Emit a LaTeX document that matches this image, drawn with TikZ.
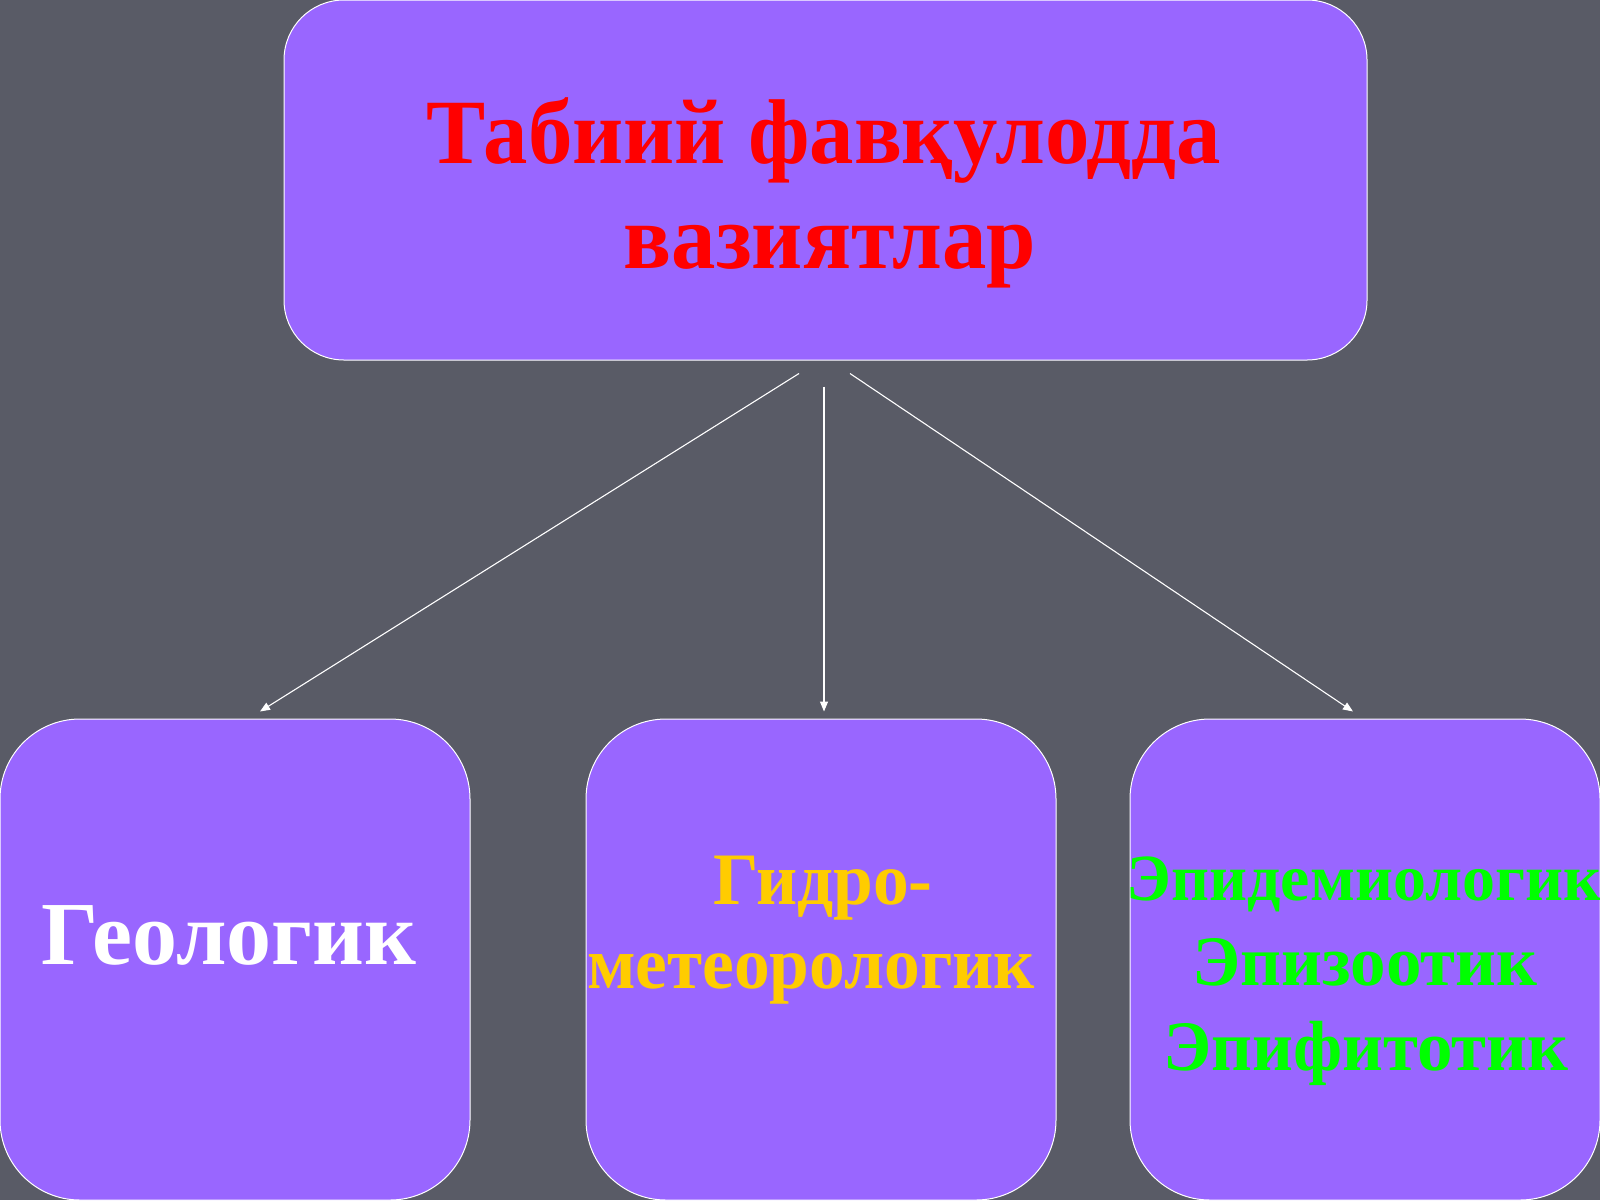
\documentclass[tikz,border=0pt]{standalone}
\usepackage{fontspec}
\setmainfont{Liberation Serif}
\usepackage{xcolor}
\usetikzlibrary{arrows.meta, calc}
\definecolor{slidebg}{RGB}{89,91,102}
\definecolor{boxfill}{RGB}{153,102,255}
\definecolor{hydroyellow}{RGB}{255,204,0}
\definecolor{epigreen}{RGB}{0,255,0}
\tikzset{
  box/.style={draw=white, fill=boxfill, line width=1pt, inner sep=0pt},
  smallbox/.style={box, rounded corners=80pt, minimum width=470pt, minimum height=481pt},
  txt/.style={anchor=base, inner sep=0pt, font=\bfseries},
  link/.style={draw=white, line width=1.1pt, -{Triangle[length=10pt,width=8pt]}}
}
\begin{document}
\begin{tikzpicture}[x=1pt,y=-1pt]
        \fill[slidebg] (0,0) rectangle (1600,1200);
        \useasboundingbox (0,0) rectangle (1600,1200);
        \node[box, rounded corners=60pt, minimum width=1083pt, minimum height=360pt] (top) at (825.5,180) {};
        \node[smallbox] (geo) at (235,959.5) {};
        \node[smallbox] (hydro) at (821,959.5) {};
        \node[smallbox] (epi) at (1365,959.5) {};
        % texts
        \node[txt, red, xscale=0.965, font=\bfseries\fontsize{92}{105}\selectfont] (title1) at (824,163) {Табиий фавқулодда};
        \node[txt, red, xscale=0.965, font=\bfseries\fontsize{92}{105}\selectfont] (title2) at (830,268) {вазиятлар};
        \node[txt, white, font=\bfseries\fontsize{90}{100}\selectfont] (geotxt) at (229,964) {Геологик};
        \node[txt, hydroyellow, xscale=0.965, font=\bfseries\fontsize{74}{84}\selectfont] (hydro1) at (823,904) {Гидро-};
        \node[txt, hydroyellow, xscale=0.965, font=\bfseries\fontsize{74}{84}\selectfont] (hydro2) at (811,988) {метеорологик};
        \node[txt, epigreen, font=\bfseries\fontsize{66}{84}\selectfont] (epi1) at (1364,900) {Эпидемиологик};
        \node[txt, epigreen, font=\bfseries\fontsize{71}{84}\selectfont] (epi2) at (1365,985) {Эпизоотик};
        \node[txt, epigreen, font=\bfseries\fontsize{71}{84}\selectfont] (epi3) at (1366,1070) {Эпифитотик};
        \draw[link] ($(top.south)+(-26.5,13)$) -- ($(geo.north)+(25,-7)$);
        \draw[link] ($(top.south)+(-1.5,26)$) -- ($(hydro.north)+(3,-7)$);
        \draw[link] ($(top.south)+(24.5,13)$) -- ($(epi.north)+(-12,-7)$);
      \end{tikzpicture}
\end{document}
